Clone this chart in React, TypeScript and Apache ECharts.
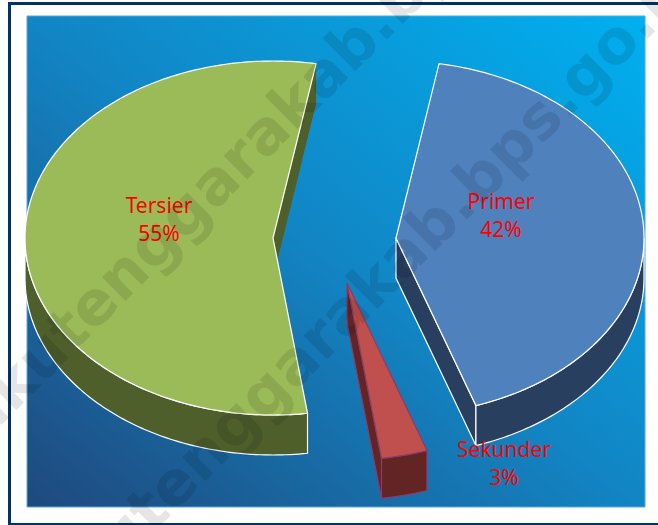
import React, { useEffect, useRef } from "react";
import * as echarts from "echarts";

const categories = ["Primer", "Sekunder", "Tersier"];
const values = [42, 3, 55];
const topColors = ["#4F81BD", "#C0504D", "#9BBB59"];
const sideColors = ["#283F5F", "#632523", "#4F5F2C"];
const edgeColors = ["#FFFFFF", "#8E3A6A", "#FFFFFF"];
const radialWallEdges = ["#FFFFFF", "#8E3A6A", "none"];
const centers = [[396, 238], [347, 283], [273, 238]];
const labelSpots = [[501, 215], [504, 463], [159, 219]];
const watermark = "malukutenggarakab.bps.go.id";

const RX = 248;
const RY = 177;
const DEPTH = 40;
const START = 10;

function pt(c: number[], deg: number, dy = 0) {
  const r = (deg * Math.PI) / 180;
  return [c[0] + RX * Math.sin(r), c[1] - RY * Math.cos(r) + dy];
}

function arc(c: number[], from: number, to: number, dy = 0) {
  const out: number[][] = [];
  const n = Math.max(2, Math.ceil(to - from));
  for (let i = 0; i <= n; i++) out.push(pt(c, from + ((to - from) * i) / n, dy));
  return out;
}

function renderSlice(params: any, api: any) {
  const i = params.dataIndex;
  let before = 0;
  for (let k = 0; k < i; k++) before += values[k];
  const a0 = START + (before / 100) * 360;
  const a1 = a0 + (api.value(0) / 100) * 360;
  const c = centers[i];
  const children: any[] = [];

  const rim = pt(c, a1);
  const rimLow = pt(c, a1, DEPTH);
  children.push({
    type: "polygon",
    shape: { points: [c, rim, rimLow, [c[0], c[1] + DEPTH]] },
    style: { fill: sideColors[i], stroke: radialWallEdges[i], lineWidth: 1.2 },
  });

  const visFrom = Math.max(a0, 90);
  const visTo = Math.min(a1, 270);
  if (visTo > visFrom) {
    children.push({
      type: "polygon",
      shape: {
        points: [...arc(c, visFrom, visTo), ...arc(c, visFrom, visTo, DEPTH).reverse()],
      },
      style: { fill: sideColors[i], stroke: edgeColors[i], lineWidth: 1.2 },
    });
  }

  children.push({
    type: "polygon",
    shape: { points: [c, ...arc(c, a0, a1)] },
    style: { fill: topColors[i], stroke: edgeColors[i], lineWidth: 1.2 },
  });

  children.push({
    type: "text",
    x: labelSpots[i][0],
    y: labelSpots[i][1],
    z2: 10,
    style: {
      text: `${categories[i]}\n${api.value(0)}%`,
      fill: "#FF0000",
      font: '21px "Noto Sans"',
      lineHeight: 28,
      align: "center",
      verticalAlign: "middle",
    },
  });
  return { type: "group", children };
}

export default function App() {
  const ref = useRef<HTMLDivElement>(null);
  useEffect(() => {
    document.body.style.margin = "0";
    const chart = echarts.init(ref.current!, null, { renderer: "svg" });
    const mark = (x: number, y: number) => ({
      type: "text",
      z: 50,
      x,
      y,
      rotation: Math.PI / 4,
      style: {
        text: watermark,
        fill: "rgba(0,0,0,0.1)",
        font: 'bold 61px "DejaVu Sans"',
        align: "left",
        verticalAlign: "middle",
      },
    });
    chart.setOption({
      animation: false,
      backgroundColor: "#FFFFFF",
      graphic: [
        {
          type: "rect",
          z: -2,
          shape: { x: 9.5, y: 3.5, width: 700, height: 521 },
          style: { fill: "#FFFFFF", stroke: "#003366", lineWidth: 3 },
        },
        {
          type: "rect",
          z: -1,
          shape: { x: 27, y: 16, width: 618, height: 491 },
          style: {
            stroke: "#5BA7D6",
            lineWidth: 1,
            fill: {
              type: "linear",
              x: 0,
              y: 1,
              x2: 1,
              y2: 0,
              colorStops: [
                { offset: 0, color: "#1F497D" },
                { offset: 0.5, color: "#1285C4" },
                { offset: 1, color: "#00B0F0" },
              ],
            },
          },
        },
        mark(-122, 518),
        mark(-42, 698),
      ],
      series: [
        {
          type: "custom",
          coordinateSystem: "none",
          renderItem: renderSlice,
          data: values.map((v, i) => ({ name: categories[i], value: [v] })),
        },
      ],
    });
    return () => chart.dispose();
  }, []);
  return <div ref={ref} style={{ width: 658, height: 525 }} />;
}
